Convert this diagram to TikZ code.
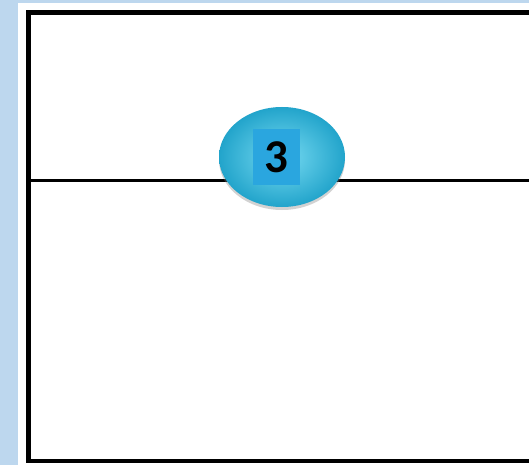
\documentclass[tikz,border=0pt]{standalone}
\usepackage{fontspec}
\newfontfamily\numfont{Carlito}[BoldFont={Carlito Bold}]
\usepackage{xcolor}
\usepackage{tikz}
\usetikzlibrary{shapes.geometric,shadows}
\definecolor{pagebg}{HTML}{BDD7EE}
\definecolor{ballin}{HTML}{78DBF2}
\definecolor{ballout}{HTML}{22A4CB}
\definecolor{numbg}{HTML}{2AA6DF}
\tikzset{
  frame/.style={line width=4.5pt},
  divider/.style={line width=3pt},
  bubble/.style={ellipse,minimum width=126pt,minimum height=100pt,
                 inner sep=0pt,shading=radial,inner color=ballin,
                 outer color=ballout,
                 drop shadow={shadow xshift=0pt,shadow yshift=-3pt,opacity=0.35}},
  numbox/.style={fill=numbg,minimum width=47pt,minimum height=55pt,
                 inner sep=0pt,font=\fontsize{47}{47}\selectfont\numfont\bfseries},
}

\begin{document}
\begin{tikzpicture}[x=1pt, y=-1pt]
  \fill[pagebg] (0,0) rectangle (529,465);
  \fill[white] (18,3) rectangle (529,465);
  \useasboundingbox (0,0) rectangle (529,465);
  % dividing line and frame
  \coordinate (divl) at (28.5,180);
  \coordinate (divr) at (529,180);
  \draw[divider] (divl) -- (divr);
  \draw[frame] (529,12.5) -- (28.5,12.5) -- (28.5,461) -- (529,461);
  % numbered bubble
  \node[bubble] (ball) at (282,157) {};
  \node[numbox] (num) at (276,157) {3};
\end{tikzpicture}
\end{document}
